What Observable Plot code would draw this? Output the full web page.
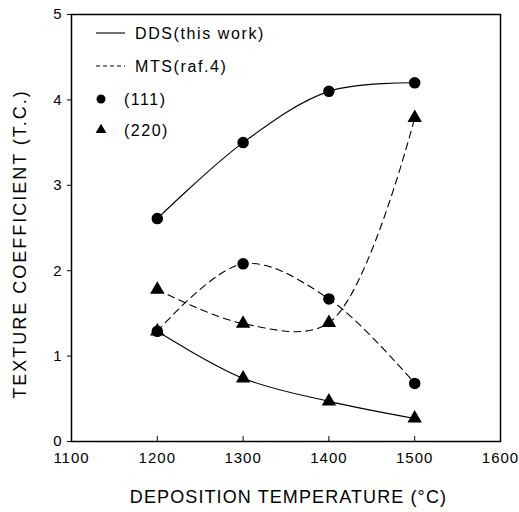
<!DOCTYPE html>
<html>
<head>
<meta charset="utf-8">
<script src="https://cdn.jsdelivr.net/npm/d3@7"></script>
<script src="https://cdn.jsdelivr.net/npm/@observablehq/plot@0.6"></script>
<style>
  html, body { margin: 0; padding: 0; background: #fff; }
  #chart svg { font-family: "Liberation Sans", Arial, sans-serif; }
</style>
</head>
<body>
<div id="chart"></div>
<script>
// Deposition temperatures (°C)
const temperatures = [1200, 1300, 1400, 1500];

// Texture coefficients per process and orientation
const ddsPlane111 = [2.61, 3.50, 4.10, 4.20];
const ddsPlane220 = [1.29, 0.74, 0.47, 0.27];
const mtsPlane111 = [1.29, 2.08, 1.67, 0.68];
const mtsPlane220 = [1.78, 1.38, 1.39, 3.79];

// Axis ticks
const xTicks = [1100, 1200, 1300, 1400, 1500, 1600];
const yTicks = [0, 1, 2, 3, 4, 5];

// Legend entries
const legendLabels = ["DDS(this work)", "MTS(raf.4)", "(111)", "(220)"];

const toRows = (values, process, plane) =>
  temperatures.map((t, i) => ({t, tc: values[i], process, plane}));

const series = [
  toRows(ddsPlane111, "DDS", "111"),
  toRows(ddsPlane220, "DDS", "220"),
  toRows(mtsPlane111, "MTS", "111"),
  toRows(mtsPlane220, "MTS", "220")
];
const rows = series.flat();

const dash = {DDS: null, MTS: "7,5"};

const lineMarks = series.map(s =>
  Plot.line(s, {
    x: "t", y: "tc", curve: "catmull-rom",
    stroke: "black", strokeWidth: 1.1,
    strokeDasharray: dash[s[0].process]
  })
);

const plot = Plot.plot({
  width: 519,
  height: 512,
  marginLeft: 71,
  marginRight: 19,
  marginTop: 14,
  marginBottom: 71,
  style: {fontFamily: "Liberation Sans, Arial, sans-serif", background: "white"},
  x: {domain: [1100, 1600], ticks: xTicks},
  y: {domain: [0, 5], ticks: yTicks},
  marks: [
    ...lineMarks,
    Plot.dot(rows.filter(d => d.plane === "111"), {x: "t", y: "tc", r: 5, fill: "black", stroke: "black"}),
    Plot.dot(rows.filter(d => d.plane === "220"), {x: "t", y: "tc", r: 4.4, symbol: "triangle", fill: "black", stroke: "black"}),
    Plot.frame({stroke: "black", strokeWidth: 1.5}),
    Plot.axisX({ticks: xTicks, tickSize: -5, tickPadding: 16, fontSize: 15, label: null, tickFormat: d => String(d), stroke: "black"}),
    Plot.axisY({ticks: yTicks, tickSize: 4, tickPadding: 5, fontSize: 15, label: null, tickFormat: d => String(d), stroke: "black"})
  ]
});

document.getElementById("chart").appendChild(plot);

// Tick label styling: slightly spaced digits
d3.select(plot).selectAll("g[aria-label='x-axis tick label'] text, g[aria-label='y-axis tick label'] text")
  .attr("letter-spacing", 1).attr("fill", "black");

const svg = d3.select(plot);
const W = 519, mL = 71, mR = 19;

// Axis titles
svg.append("text")
  .attr("x", (mL + W - mR) / 2 + 3)
  .attr("y", 503)
  .attr("text-anchor", "middle")
  .attr("font-size", 18)
  .attr("letter-spacing", 1.1)
  .attr("fill", "black")
  .text("DEPOSITION TEMPERATURE (°C)");

svg.append("text")
  .attr("transform", "translate(26,244) rotate(-90)")
  .attr("text-anchor", "middle")
  .attr("font-size", 18)
  .attr("letter-spacing", 2)
  .attr("fill", "black")
  .text("TEXTURE COEFFICIENT (T.C.)");

// Legend in the upper-left corner of the frame
const lg = svg.append("g").attr("fill", "black").attr("text-anchor", "start");
const rowY = [33, 66, 99, 130];
const sx1 = 96, sx2 = 125, textX = 135;

lg.append("line").attr("x1", sx1).attr("x2", sx2).attr("y1", rowY[0]).attr("y2", rowY[0])
  .attr("stroke", "black").attr("stroke-width", 1.1);
lg.append("line").attr("x1", sx1).attr("x2", sx2).attr("y1", rowY[1]).attr("y2", rowY[1])
  .attr("stroke", "black").attr("stroke-width", 1.1).attr("stroke-dasharray", "4,3");
lg.append("circle").attr("cx", 101).attr("cy", rowY[2]).attr("r", 4.5);
lg.append("path").attr("transform", `translate(101,${rowY[3]})`)
  .attr("d", d3.symbol(d3.symbolTriangle, Math.PI * 4 * 4)());

const labelX = [textX, textX, 124, 124];
legendLabels.forEach((label, i) => {
  lg.append("text")
    .attr("x", labelX[i])
    .attr("y", rowY[i])
    .attr("dy", "0.36em")
    .attr("text-anchor", "start")
    .attr("font-size", 16)
    .attr("letter-spacing", i < 2 ? 1.6 : 1.5)
    .text(label);
});
</script>
</body>
</html>
